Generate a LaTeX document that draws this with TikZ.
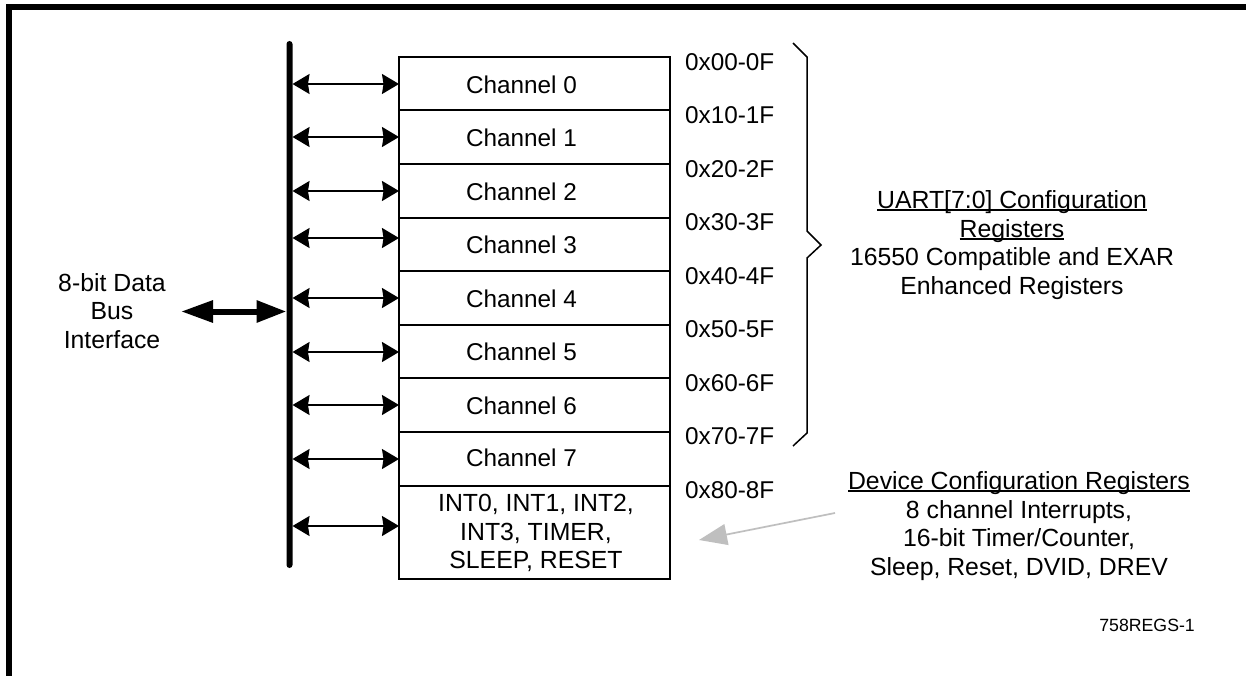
\documentclass[tikz,border=0pt]{standalone}
\usepackage{fontspec}
\setmainfont{Liberation Sans}
\usetikzlibrary{arrows.meta}
\newsavebox{\ulbox}
\newcommand{\myul}[1]{\sbox{\ulbox}{#1}\leavevmode\rlap{\rule[-2.6pt]{\wd\ulbox}{1.6pt}}\usebox{\ulbox}}
\tikzset{
  txt/.style={inner sep=0pt,font=\fontsize{24.8}{28.7}\selectfont,align=center,text=black},
  small/.style={inner sep=0pt,font=\fontsize{24.3}{28.7}\selectfont,text=black},
  addr/.style={small,anchor=west},
  regbox/.style={draw=black,line width=1.7pt,inner sep=0pt,outer sep=0pt,minimum width=271pt,anchor=north west},
  link/.style={line width=1.5pt,{Stealth[length=17pt,width=20pt,inset=1.5pt]}-{Stealth[length=17pt,width=20pt,inset=1.5pt]}},
  busbar/.style={fill=black,rounded corners=3pt,minimum width=6pt,minimum height=527pt,inner sep=0pt,outer sep=0pt,anchor=north},
}
\begin{document}
\begin{tikzpicture}[x=1pt,y=-1pt]
\useasboundingbox (0,0) rectangle (1246,676);
\fill[white] (0,0) rectangle (1246,676);
% frame
\coordinate (fa) at (9,676); \coordinate (fb) at (9,7); \coordinate (fc) at (1246,7);
\draw[line width=6pt,line join=miter] (fa) -- (fb) -- (fc);
% bus
\node[busbar] (bus) at (289.5,41) {};
% boxes
\foreach \nm/\t/\h in {b0/57/53,b1/110/54,b2/164/54,b3/218/53,b4/271/54,b5/325/53,b6/378/54,b7/432/54,b8/486/93}{
  \node[regbox,minimum height=\h pt] (\nm) at (399,\t) {};
}
% channel labels
\foreach \n/\y in {0/85,1/138,2/192,3/245,4/299,5/352,6/406,7/458}{
  \node[small] (c\n) at (521.5,\y) {Channel \n};
}
\node[txt] (c8) at (536,533) {INT0, INT1, INT2,\\INT3, TIMER,\\SLEEP, RESET};
% links
\foreach \nm/\y in {b0/84,b1/137,b2/191,b3/238,b4/298,b5/352,b6/405,b7/459,b8/526}{
  \coordinate (p) at (0,\y);
  \draw[link] (bus.east |- p) -- (\nm.west |- p);
}
% data bus arrow
\coordinate (dbl) at (181,311.5);
\draw[line width=6pt,{Triangle[length=32pt,width=21pt]}-{Triangle[length=30pt,width=21pt]}] (dbl) -- (bus.west |- dbl);
\node[txt] (dbt) at (112,311) {8-bit Data\\Bus\\Interface};
% addresses
\foreach \a/\y in {0x00-0F/62,0x10-1F/115,0x20-2F/169,0x30-3F/222,0x40-4F/276,0x50-5F/329,0x60-6F/383,0x70-7F/436,0x80-8F/490}{
  \node[addr] at (685,\y) {\a};
}
% brace
\coordinate (ba) at (793,43); \coordinate (bb) at (807,57); \coordinate (bc) at (807,231);
\coordinate (bd) at (821,245); \coordinate (be) at (807,258); \coordinate (bf) at (807,433); \coordinate (bg) at (793,446);
\draw[line width=1.5pt,line join=miter] (ba) -- (bb) -- (bc) -- (bd) -- (be) -- (bf) -- (bg);
% right texts
\node[txt] (uart) at (1012,245) {\myul{UART[7:0] Configuration}\\\myul{Registers}\\16550 Compatible and EXAR\\Enhanced Registers};
\node[txt] (dev) at (1019,526) {\myul{Device Configuration Registers}\\8 channel Interrupts,\\16-bit Timer/Counter,\\Sleep, Reset, DVID, DREV};
\node[inner sep=0pt,anchor=east,font=\fontsize{17.7}{21}\selectfont,text=black] (tag) at (1195,625) {758REGS-1};
% grey pointer
\coordinate (g1) at (835,513); \coordinate (g2) at (699,540);
\draw[draw=black!25,line width=1.7pt,-{Triangle[length=28pt,width=21pt,fill=black!25]}] (g1) -- (g2);
\end{tikzpicture}
\end{document}
